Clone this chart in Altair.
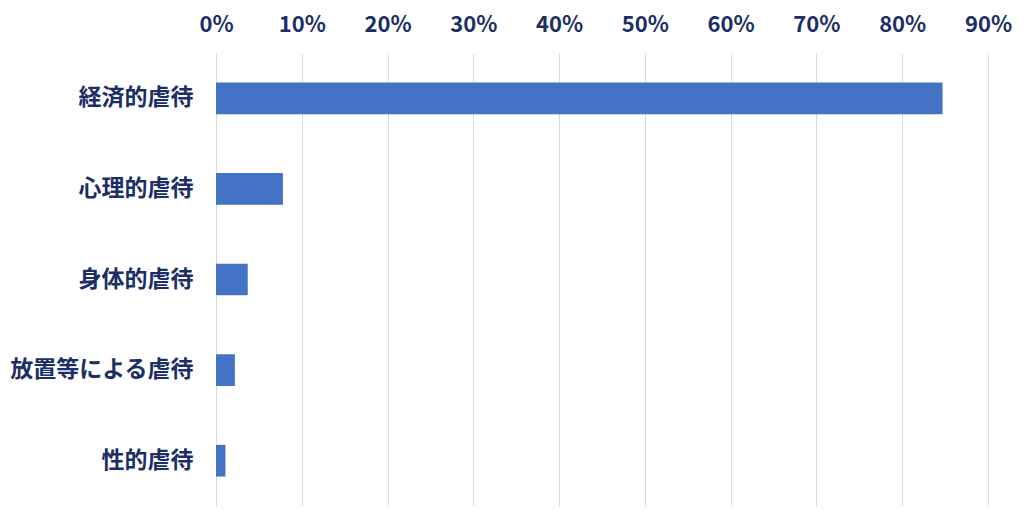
import altair as alt
import pandas as pd

categories = ["経済的虐待", "心理的虐待", "身体的虐待", "放置等による虐待", "性的虐待"]
values = [0.847, 0.078, 0.037, 0.022, 0.011]
tick_values = [0, 0.1, 0.2, 0.3, 0.4, 0.5, 0.6, 0.7, 0.8, 0.9]

df = pd.DataFrame({"category": categories, "value": values})

FONT = "Noto Sans CJK JP"
NAVY = "#1B2F66"

chart = alt.Chart(df).mark_bar(color="#4472C4").encode(
    x=alt.X(
        "value:Q",
        scale=alt.Scale(domain=[0, 0.9], nice=False, zero=True),
        axis=alt.Axis(
            orient="top",
            format=".0%",
            values=tick_values,
            title=None,
            domain=False,
            ticks=False,
            labelPadding=17,
            labelFont=FONT,
            labelFontSize=22,
            labelFontWeight="bold",
            labelColor=NAVY,
            labelFlush=False,
            labelOverlap=False,
            labelBound=False,
            grid=True,
            gridColor="#D9D9D9",
            gridWidth=1,
        ),
    ),
    y=alt.Y(
        "category:N",
        sort=categories,
        scale=alt.Scale(paddingInner=0.65, paddingOuter=0.325),
        axis=alt.Axis(
            title=None,
            domain=False,
            ticks=False,
            labelPadding=23,
            labelFont=FONT,
            labelFontSize=23,
            labelFontWeight="bold",
            labelColor=NAVY,
            labelLimit=400,
            grid=False,
        ),
    ),
).properties(
    width=772,
    height=453,
    autosize=alt.AutoSizeParams(type="none"),
    padding={"left": 208, "top": 45, "right": 26, "bottom": 2},
).configure_view(stroke=None)

chart.save("out.html", embed_options={"renderer": "svg", "actions": False})
